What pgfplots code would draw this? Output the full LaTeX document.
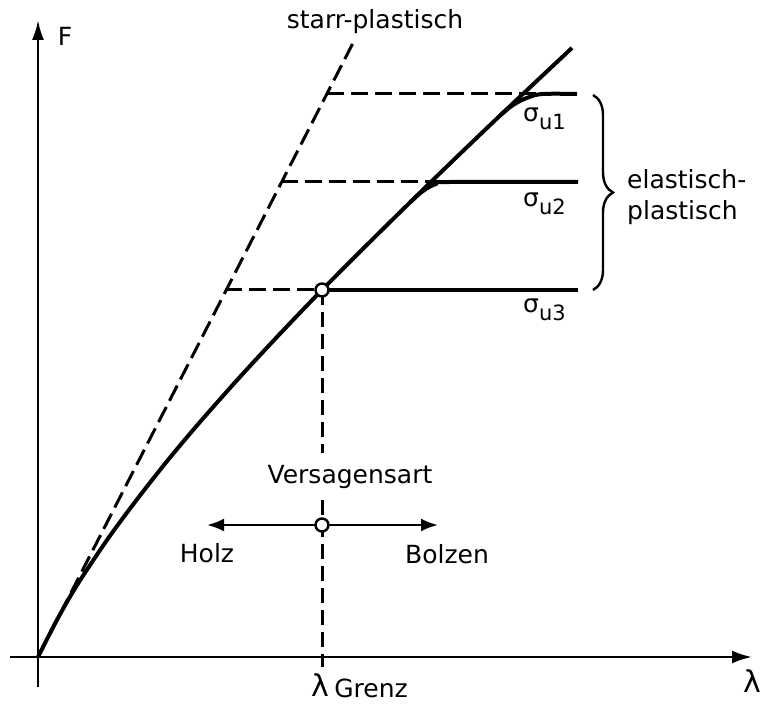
\documentclass[border=0pt]{standalone}
\usepackage{pgfplots}
\pgfplotsset{compat=1.18}
\usepackage{fontspec}
\setmainfont{DejaVu Sans}
\usetikzlibrary{arrows.meta,decorations.pathreplacing}

% rigid-plastic line
\pgfplotstableread{
x y
0 0
315 614
}\starr

% elastic load-slip curve
\pgfplotstableread{
x y
0 0
20 39
40 73.4
70 118.4
100 158.9
130 197
160 232.7
200 277.9
240 321.1
284 367
340 423.1
400 481.9
460 539.5
534 609.1
}\elastisch

% elastic-plastic branches
\pgfplotstableread{
x y
462 541.4
475 552
490 559.5
505 563
539 563
}\plastA

\pgfplotstableread{
x y
372 454.5
385 466
398 473
412 475
540 475
}\plastB

\begin{document}
\begin{tikzpicture}[
  lbl/.style={font=\fontsize{25bp}{31bp}\selectfont, inner sep=0pt}]
\begin{axis}[
  scale only axis, width=761bp, height=707bp,
  xmin=-38, xmax=723, ymin=-50, ymax=657,
  hide axis, clip=false]
\path (rel axis cs:0,0) rectangle (rel axis cs:1,1);

% axes
\addplot[line width=2.6bp, -{Latex[length=20bp,width=13bp]}] coordinates {(-28,0) (714,0)};
\addplot[line width=2.6bp, -{Latex[length=20bp,width=12bp]}] coordinates {(0,-30) (0,637)};

% rigid-plastic reference line
\addplot[line width=3bp, dash pattern=on 17bp off 7bp] table[x=x,y=y] {\starr};

% yield levels, dashed part
\addplot[line width=3bp, dash pattern=on 17bp off 7bp] coordinates {(289,563) (505,563)};
\addplot[line width=3bp, dash pattern=on 17bp off 7bp] coordinates {(243,475) (412,475)};
\addplot[line width=3bp, dash pattern=on 17bp off 7bp] coordinates {(187,367) (284,367)};

% limit slenderness
\addplot[line width=3bp, dash pattern=on 15bp off 7bp] coordinates {(284,367) (284,204)};
\addplot[line width=3bp, dash pattern=on 15bp off 7bp] coordinates {(284,157) (284,-10)};

% elastic curve and elastic-plastic branches
\addplot[line width=4bp, smooth, tension=0.5] table[x=x,y=y] {\elastisch};
\addplot[line width=4bp, smooth, tension=0.6] table[x=x,y=y] {\plastA};
\addplot[line width=4bp, smooth, tension=0.6] table[x=x,y=y] {\plastB};
\addplot[line width=3.5bp] coordinates {(284,367) (540,367)};

% failure mode arrows
\addplot[line width=2.6bp, -{Latex[length=17bp,width=13bp]}] coordinates {(284,132) (169,132)};
\addplot[line width=2.6bp, -{Latex[length=17bp,width=13bp]}] coordinates {(284,132) (400,132)};

% points
\addplot[only marks, mark=*, mark size=6.5bp,
  mark options={fill=white, draw=black, line width=2.4bp}] coordinates {(284,367) (284,132)};

% brace
\draw[decorate, decoration={brace, amplitude=20bp}, line width=2.4bp]
  (axis cs:555,562) -- (axis cs:555,367);

% labels
\node[lbl] at (axis cs:337,635) {starr-plastisch};
\node[lbl] at (axis cs:27,621) {F};
\node[lbl, anchor=base west] at (axis cs:485,535) {σ\raisebox{-0.55ex}{\fontsize{21bp}{22bp}\selectfont u1}};
\node[lbl, anchor=base west] at (axis cs:485,450) {σ\raisebox{-0.55ex}{\fontsize{21bp}{22bp}\selectfont u2}};
\node[lbl, anchor=base west] at (axis cs:485,344) {σ\raisebox{-0.55ex}{\fontsize{21bp}{22bp}\selectfont u3}};
\node[lbl, anchor=west, align=left] at (axis cs:589,460) {elastisch-\\plastisch};
\node[lbl] at (axis cs:312,180) {Versagensart};
\node[lbl] at (axis cs:169,104) {Holz};
\node[lbl] at (axis cs:409,103) {Bolzen};
\node[lbl, font=\fontsize{30bp}{32bp}\selectfont] at (axis cs:282,-28) {λ};
\node[lbl] at (axis cs:333,-31) {Grenz};
\node[lbl, font=\fontsize{30bp}{32bp}\selectfont] at (axis cs:714,-24) {λ};
\end{axis}
\end{tikzpicture}
\end{document}
